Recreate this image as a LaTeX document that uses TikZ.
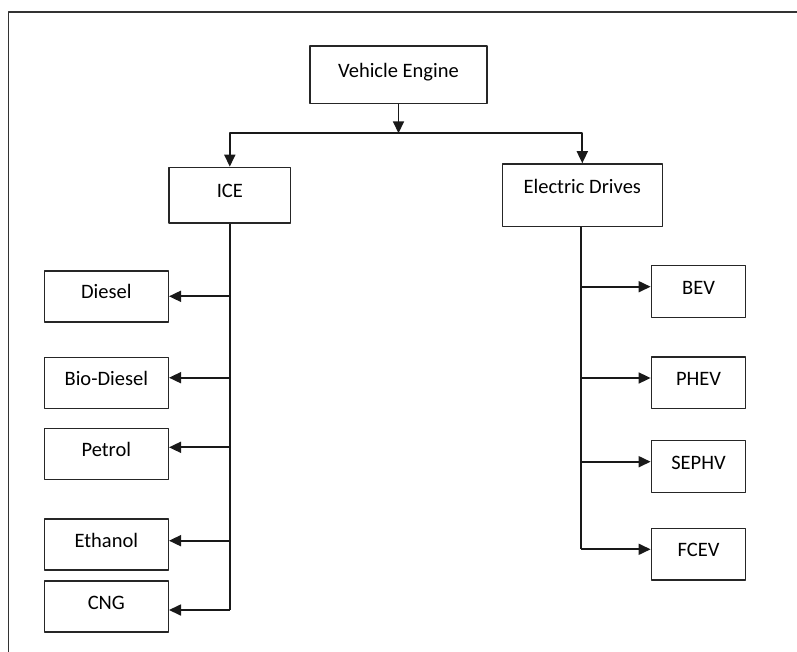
\documentclass[tikz,border=0pt]{standalone}
\usepackage{fontspec}
\setmainfont{Carlito}
\usetikzlibrary{arrows.meta}
\begin{document}
\begin{tikzpicture}[x=1pt,y=-1pt,>={Triangle[length=12pt,width=11pt]},line join=round,
	font=\fontsize{20.5}{24}\selectfont,
	box/.style={draw=black!85,line width=1.4pt,inner sep=0pt,text height=12.5pt,text depth=7.5pt},
	fuel/.style={box,minimum width=124pt,minimum height=51pt},
	drive/.style={box,minimum width=94.4pt,minimum height=51.5pt},
	link/.style={line width=1.7pt,black!90}]
	\useasboundingbox (0,0) rectangle (797,652);
	\draw[line width=1.6pt,black!80] (8.5,652) -- (8.5,12) -- (797,12);
	% top of the tree
	\node[box,minimum width=177pt,minimum height=57.5pt] (engine) at (398.5,74.8) {Vehicle Engine};
	\node[box,minimum width=121.7pt,minimum height=55.7pt] (ice) at (229.8,195.2) {ICE};
	\node[box,minimum width=160pt,minimum height=62.7pt,text height=8pt,text depth=12pt] (elec) at (582.3,195.3) {Electric Drives};
	\coordinate (split) at (398.5,133.3);
	\draw[link,->] (engine.south) -- (split);
	\draw[link,->] (split) -| (ice.north);
	\draw[link,->] (split) -| (elec.north);
	% fuels
	\node[fuel] (diesel) at (106.3,296.3) {Diesel};
	\node[fuel] (biodiesel) at (106.3,383) {Bio-Diesel};
	\node[fuel] (petrol) at (106.3,453.8) {Petrol};
	\node[fuel] (ethanol) at (106.3,544.5) {Ethanol};
	\node[fuel] (cng) at (106.3,606.5) {CNG};
	\foreach \n/\s in {diesel/0,biodiesel/5.3,petrol/6.5,ethanol/3.8,cng/-3.5}
		\coordinate (\n-in) at ([yshift=\s pt]\n.east);
	\draw[link] (ice.south) -- (ice.south |- cng-in);
	\foreach \n in {diesel,biodiesel,petrol,ethanol,cng}
		\draw[link,->] (ice.south |- \n-in) -- (\n-in);
	% electric drives
	\node[drive] (bev) at (698.5,291.5) {BEV};
	\node[drive] (phev) at (698.5,382.8) {PHEV};
	\node[drive] (sephv) at (698.5,466.5) {SEPHV};
	\node[drive] (fcev) at (698.5,554.2) {FCEV};
	\foreach \n/\s in {bev/4.8,phev/4.8,sephv/4.8,fcev/4.9}
		\coordinate (\n-in) at ([yshift=\s pt]\n.west);
	\coordinate (etrunk) at (581,226.7);
	\draw[link] (etrunk) -- (etrunk |- fcev-in);
	\foreach \n in {bev,phev,sephv,fcev}
		\draw[link,->] (etrunk |- \n-in) -- (\n-in);
\end{tikzpicture}
\end{document}
